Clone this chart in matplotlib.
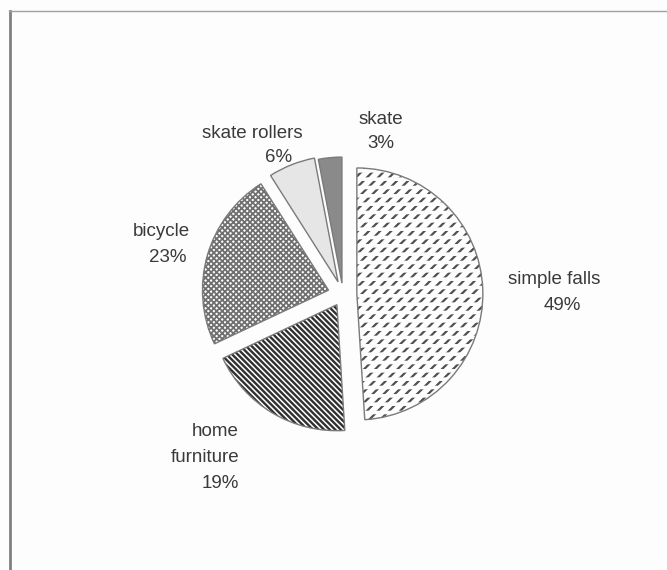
import matplotlib
matplotlib.use("Agg")
import matplotlib.pyplot as plt
from matplotlib.lines import Line2D
from matplotlib.patches import Wedge

# data
labels = ['simple falls', 'home furniture', 'bicycle', 'skate rollers', 'skate']
pcts = [49, 19, 23, 6, 3]
explode = [0.11, 0.095, 0.12, 0.107, 0.09]

face = ['white', 'white', 'white', '#e6e6e6', '#8a8a8a']
hatch_col = ['#505050', '#303030', '#707070', '#8a8a8a', '#777777']
hatches = ['///', '\\' * 6, 'x' * 6, None, None]
hatch_lw = [1.6, 1.7, 1.3, 1.0, 1.0]

# label line positions in pixels (x, y from top), alignment
name_lines = [[('simple falls', 554, 280)],
              [('home', 239, 432), ('furniture', 239, 458)],
              [('bicycle', 161, 232)],
              [('skate rollers', 252, 133)],
              [('skate', 381, 119)]]
pct_pos = [(562, 305), (239, 484), (168, 257), (279, 158), (381, 143)]
aligns = ['center', 'right', 'center', 'center', 'center']

W, H = 667, 570
cx, cy, R = 343, 294.4, 126.0
BG = '#fdfdfd'

fig = plt.figure(figsize=(W / 100, H / 100), dpi=100)
fig.patch.set_facecolor(BG)
ax = fig.add_axes([0, 0, 1, 1])

wedges, _ = ax.pie(pcts, explode=explode, startangle=90, counterclock=False,
                   radius=1.0, wedgeprops=dict(linewidth=0))
for w, fc, hc, ht, hl in zip(wedges, face, hatch_col, hatches, hatch_lw):
    w.set_facecolor(fc)
    # hatch follows edge colour, outline is redrawn separately below
    w.set_edgecolor(hc)
    if ht:
        w.set_hatch(ht)
        if hasattr(w, 'set_hatch_linewidth'):
            w.set_hatch_linewidth(hl)

# break the simple falls hatch into short dashes, then outline all wedges
w0 = wedges[0]
ov = Wedge(w0.center, w0.r, w0.theta1, w0.theta2, facecolor='none',
           edgecolor=BG, linewidth=0, hatch='--')
if hasattr(ov, 'set_hatch_linewidth'):
    ov.set_hatch_linewidth(2.6)
ax.add_patch(ov)
for w in wedges:
    ax.add_patch(Wedge(w.center, w.r, w.theta1, w.theta2, facecolor='none',
                       edgecolor='#7a7a7a', linewidth=1.0))

ax.set_xlim(-cx / R, (W - cx) / R)
ax.set_ylim(-(H - cy) / R, cy / R)
ax.set_aspect('auto')
ax.axis('off')

def put(s, x, y, ha):
    ax.text((x - cx) / R, (cy - y) / R, s, ha=ha, va='center',
            fontsize=13.5, color='#3a3a3a', family='Liberation Sans')

for lines, (px, py), p, ha in zip(name_lines, pct_pos, pcts, aligns):
    for s, x, y in lines:
        put(s, x, y, ha)
    put(f'{p}%', px, py, ha)

# frame lines
fig.add_artist(Line2D([10 / W, 10 / W], [0, 1 - 11 / H], color='#808080', lw=2.0))
fig.add_artist(Line2D([9 / W, 1], [1 - 11 / H, 1 - 11 / H], color='#a0a0a0', lw=1.0))

fig.savefig('out.png', dpi=100, facecolor=fig.get_facecolor())
